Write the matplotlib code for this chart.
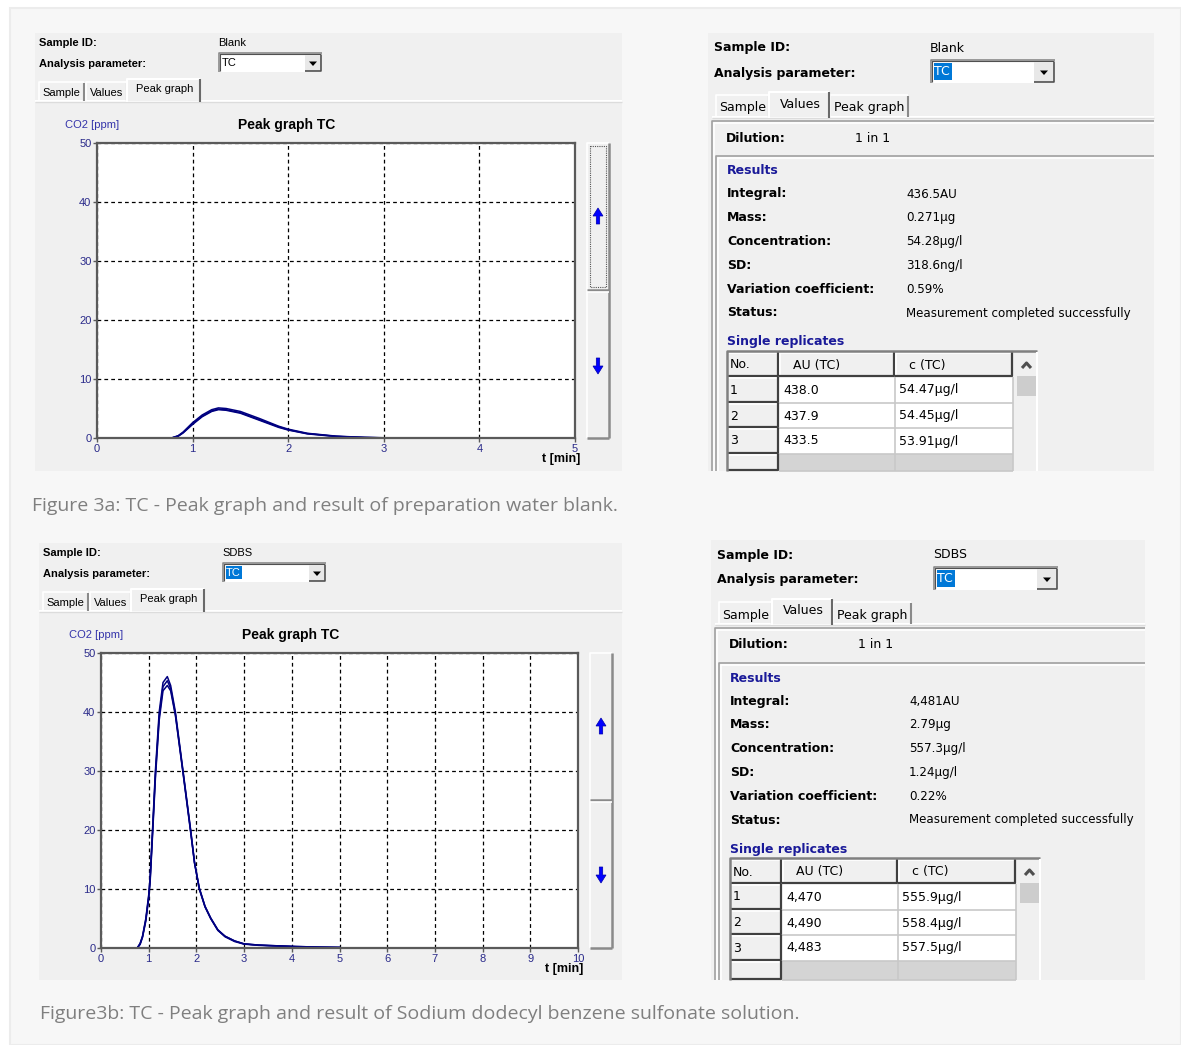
"""
Screenshot of two TOC analyser dialogs: peak graph tab and values tab
for a blank and an SDBS sample.
"""
import matplotlib
matplotlib.use("Agg")
import matplotlib.pyplot as plt
from matplotlib.patches import Rectangle, Polygon

W, H = 1181, 1045

# time axis shared by the replicate curves (min)
blank_t = [0.0, 0.78, 0.85, 0.9, 1.0, 1.1, 1.2, 1.27, 1.35, 1.5, 1.7, 1.9, 2.0, 2.2, 2.5, 2.8, 3.0, 3.4]
blank_r1 = [0.0, 0.0, 0.4, 1.0, 2.6, 3.9, 4.8, 5.1, 5.0, 4.5, 3.3, 2.0, 1.5, 0.8, 0.32, 0.1, 0.04, 0.0]
blank_r2 = [0.0, 0.0, 0.35, 0.9, 2.4, 3.7, 4.6, 4.9, 4.8, 4.3, 3.1, 1.9, 1.4, 0.75, 0.28, 0.09, 0.03, 0.0]
blank_r3 = [0.0, 0.0, 0.3, 0.85, 2.3, 3.6, 4.5, 4.8, 4.7, 4.2, 3.0, 1.8, 1.35, 0.7, 0.25, 0.08, 0.02, 0.0]

sdbs_t = [0.0, 0.76, 0.82, 0.87, 0.94, 1.0, 1.03, 1.08, 1.14, 1.22, 1.3, 1.39, 1.46, 1.56, 1.64,
          1.72, 1.8, 1.88, 1.96, 2.06, 2.18, 2.3, 2.45, 2.6, 2.8, 3.0, 3.3, 3.6, 4.1, 4.6, 5.0]
sdbs_r1 = [0.0, 0.0, 0.8, 2.0, 5.0, 9.0, 12.0, 20.0, 30.0, 40.0, 45.0, 46.0, 44.5, 40.0, 35.0,
           30.0, 25.0, 20.0, 14.5, 10.0, 7.0, 5.0, 3.0, 2.0, 1.2, 0.7, 0.5, 0.4, 0.25, 0.15, 0.1]
sdbs_r2 = [0.0, 0.0, 0.7, 1.9, 4.8, 8.7, 11.6, 19.5, 29.3, 39.2, 44.3, 45.3, 44.0, 39.6, 34.7,
           29.8, 24.8, 19.8, 14.6, 10.2, 7.1, 5.1, 3.1, 2.0, 1.2, 0.7, 0.5, 0.4, 0.25, 0.15, 0.1]
sdbs_r3 = [0.0, 0.0, 0.6, 1.8, 4.6, 8.4, 11.2, 19.0, 28.7, 38.6, 43.6, 44.5, 43.6, 39.4, 34.5,
           29.6, 24.6, 19.6, 14.4, 10.1, 7.0, 5.0, 3.0, 1.9, 1.1, 0.65, 0.45, 0.35, 0.2, 0.12, 0.08]

# values tab contents
result_labels = ["Integral:", "Mass:", "Concentration:", "SD:", "Variation coefficient:", "Status:"]
blank_results = ["436.5AU", "0.271µg", "54.28µg/l", "318.6ng/l", "0.59%", "Measurement completed successfully"]
sdbs_results = ["4,481AU", "2.79µg", "557.3µg/l", "1.24µg/l", "0.22%", "Measurement completed successfully"]
table_header = ["No.", "AU (TC)", "c (TC)"]
blank_reps = [["1", "438.0", "54.47µg/l"], ["2", "437.9", "54.45µg/l"], ["3", "433.5", "53.91µg/l"]]
sdbs_reps = [["1", "4,470", "555.9µg/l"], ["2", "4,490", "558.4µg/l"], ["3", "4,483", "557.5µg/l"]]

captions = ["Figure 3a: TC - Peak graph and result of preparation water blank.",
            "Figure3b: TC - Peak graph and result of Sodium dodecyl benzene sulfonate solution."]

PANEL = "#f0f0f0"
NAVY = "#000080"
TICKC = "#2a2a8a"
SMALL = "Liberation Sans"
BIG = "DejaVu Sans"

fig = plt.figure(figsize=(W / 100, H / 100), dpi=100, facecolor="white")
ui = fig.add_axes([0, 0, 1, 1])
ui.set_xlim(0, W)
ui.set_ylim(H, 0)
ui.axis("off")


def rect(x, y, w, h, fc, ec="none", lw=1, z=1):
    ui.add_patch(Rectangle((x, y), w, h, facecolor=fc, edgecolor=ec, linewidth=lw, zorder=z))


def line(xs, ys, c, lw=1, z=3, ls="-"):
    ui.plot(xs, ys, color=c, lw=lw, zorder=z, ls=ls, solid_capstyle="butt")


def txt(x, y, s, size, bold=False, color="black", ha="left", fam=SMALL):
    ui.text(x, y, s, fontsize=size, fontweight="bold" if bold else "normal", color=color,
            ha=ha, va="center", family=fam, zorder=5)


def combo(x, y, w, h, label, hl, size, fam):
    rect(x, y, w, h, "white", z=2)
    line([x, x, x + w], [y + h, y, y], "#8a8a8a", 1.2)
    line([x + 1, x + 1, x + w - 1], [y + h - 1, y + 1, y + 1], "#505050", 0.8)
    bw = h - 3
    bx = x + w - bw - 1
    rect(bx, y + 1.5, bw, h - 3, "#e8e8e8", z=3)
    line([bx + bw, bx + bw, bx], [y + 1.5, y + h - 1.5, y + h - 1.5], "#505050", 1.2, z=4)
    cx, cy = bx + bw / 2, y + h / 2 + 1
    ui.add_patch(Polygon([[cx - 4, cy - 2], [cx + 4, cy - 2], [cx, cy + 2.5]], closed=True,
                         facecolor="black", zorder=5))
    if hl:
        tw = size * 2.0
        rect(x + 2.5, y + 3, tw, h - 6, "#0078d7", z=4)
        txt(x + 3, y + h / 2, label, size, color="white", fam=fam)
    else:
        txt(x + 3, y + h / 2, label, size, fam=fam)


def tabs(x0, y0, widths, names, sel, h, size, fam, right_edge):
    xs = [x0]
    for w in widths:
        xs.append(xs[-1] + w)
    line([x0 - 4, right_edge], [y0 + h, y0 + h], "white", 1.5, z=3)
    line([x0 - 4, right_edge], [y0 + h + 1, y0 + h + 1], "#dcdcdc", 1, z=3)
    for i, name in enumerate(names):
        a, b = xs[i], xs[i + 1]
        top = y0 - 3 if i == sel else y0
        if i == sel:
            rect(a - 2, top, b - a + 2, h + 3, PANEL, z=4)
            line([a - 2, a - 2, b - 1], [y0 + h + 1, top, top], "white", 1.5, z=5)
            line([b - 1, b - 1], [top, y0 + h + 1], "#696969", 1.5, z=5)
            txt((a + b) / 2, top + h / 2 + 1, name, size, ha="center", fam=fam)
        else:
            line([a, a, b - 2], [y0 + h, y0, y0], "white", 1.2, z=3)
            line([b - 2, b - 2], [y0 + 1, y0 + h], "#8a8a8a", 1.5, z=3)
            txt((a + b) / 2 - 1, y0 + h / 2 + 2, name, size, ha="center", fam=fam)


def arrow(cx, cy, up):
    s = -1 if up else 1
    pts = [[cx - 5, cy], [cx, cy + s * 8], [cx + 5, cy], [cx + 1.7, cy],
           [cx + 1.7, cy - s * 8], [cx - 1.7, cy - s * 8], [cx - 1.7, cy]]
    ui.add_patch(Polygon(pts, closed=True, facecolor="#0000ff", edgecolor="#0000aa",
                         linewidth=0.5, zorder=6))


def graph_panel(px, py, pw, ph, sid, hl, ax_box, xmax, t, reps, split, dotted, arrows_y):
    rect(px, py, pw, ph, PANEL)
    txt(px + 4, py + 10, "Sample ID:", 8, bold=True)
    txt(px + 183, py + 10, sid, 8)
    txt(px + 4, py + 31, "Analysis parameter:", 8, bold=True)
    combo(px + 184, py + 20, 103, 19, "TC", hl, 8, SMALL)
    tabs(px + 4, py + 49, [47, 43, 72], ["Sample", "Values", "Peak graph"], 2, 19, 8, SMALL,
         px + pw)
    l, tp, r, b = ax_box
    txt(l - 32, tp - 18, "CO2 [ppm]", 8, color="#3333aa")
    txt((l + r) / 2 - 49, tp - 18, "Peak graph TC", 10, bold=True, ha="center")
    ax = fig.add_axes([l / W, 1 - b / H, (r - l) / W, (b - tp) / H])
    ax.set_facecolor("white")
    for y in reps:
        ax.plot(t, y, color=NAVY, lw=1.1)
    ax.set_xlim(0, xmax)
    ax.set_ylim(0, 50)
    ax.set_xticks(range(0, xmax + 1))
    ax.set_yticks(range(0, 51, 10))
    ax.grid(True, color="black", ls=(0, (3, 2.5)), lw=0.9)
    for sp in ax.spines.values():
        sp.set_color("#5a5a5a")
        sp.set_linewidth(1.6)
    ax.tick_params(axis="both", length=3, width=1, color="#5a5a5a", labelsize=8,
                   labelcolor=TICKC, pad=1)
    for lab in ax.get_xticklabels() + ax.get_yticklabels():
        lab.set_family(SMALL)
    txt(r + 5, b + 21, "t [min]", 9, bold=True, ha="right")
    # scroll bar beside the graph
    sx = r + 12
    rect(sx, tp, 22, b - tp, PANEL, z=2)
    line([sx, sx, sx + 22], [b, tp, tp], "white", 1.2)
    line([sx + 22, sx + 22], [tp, b], "#8a8a8a", 1.8)
    line([sx, sx + 22], [b, b], "#8a8a8a", 1.8)
    line([sx, sx + 22], [split, split], "#8a8a8a", 1.8)
    line([sx, sx + 22], [split + 2, split + 2], "white", 1.2)
    if dotted:
        rect(sx + 3, tp + 3, 16, split - tp - 6, "none", ec="#555555", lw=0.8, z=4)
        ui.patches[-1].set_linestyle((0, (1, 1)))
    arrow(sx + 11, arrows_y[0], True)
    arrow(sx + 11, arrows_y[1], False)


def values_panel(px, py, pw, ph, sid, res, reps):
    rect(px, py, pw, ph, PANEL)
    txt(px + 6, py + 15, "Sample ID:", 9, bold=True, fam=BIG)
    txt(px + 222, py + 15, sid, 9, fam=BIG)
    txt(px + 6, py + 40, "Analysis parameter:", 9, bold=True, fam=BIG)
    combo(px + 223, py + 27, 124, 23, "TC", True, 9, BIG)
    tabs(px + 8, py + 62, [55, 59, 80], ["Sample", "Values", "Peak graph"], 1, 22, 9, BIG,
         px + pw)
    # outer and inner frames of the values tab
    bx, by = px + 4, py + 88
    line([bx, bx, px + pw], [py + ph, by, by], "#a0a0a0", 1.2)
    line([bx + 2, bx + 2, px + pw], [py + ph, by + 2, by + 2], "white", 1.2)
    txt(px + 18, py + 105, "Dilution:", 9, bold=True, fam=BIG)
    txt(px + 147, py + 105, "1 in 1", 9, fam=BIG)
    gx, gy = px + 8, py + 123
    line([gx, gx, px + pw], [py + ph, gy, gy], "#a0a0a0", 1.2)
    line([gx + 2, gx + 2, px + pw], [py + ph, gy + 2, gy + 2], "white", 1.2)
    txt(px + 19, py + 138, "Results", 9, bold=True, color="#1a1a99", fam=BIG)
    for i, (lab, val) in enumerate(zip(result_labels, res)):
        yy = py + 161 + i * 23.8
        txt(px + 19, yy, lab, 9, bold=True, fam=BIG)
        txt(px + 198, yy, val, 8.6, fam=BIG)
    txt(px + 19, py + 309, "Single replicates", 9, bold=True, color="#1a1a99", fam=BIG)
    # replicate table
    cols = [px + 19, px + 71, px + 187, px + 305]
    ty = py + 319
    rows = [ty, ty + 25, ty + 51, ty + 76, ty + 102, py + ph]
    rect(cols[0], ty, cols[3] - cols[0], py + ph - ty, "#d4d4d4", z=2)
    for ri in range(1, 4):
        rect(cols[1], rows[ri], cols[3] - cols[1], rows[ri + 1] - rows[ri], "white", z=2)
    for ri in range(5):
        for ci in range(3):
            if ri == 0 or ci == 0:
                x0, x1 = cols[ci], cols[ci + 1]
                y0, y1 = rows[ri], rows[ri + 1]
                rect(x0, y0, x1 - x0, y1 - y0, PANEL, z=2)
                line([x0 + 1, x0 + 1, x1 - 1], [y1 - 1, y0 + 1, y0 + 1], "white", 1.2, z=3)
                line([x1 - 1, x1 - 1, x0], [y0, y1 - 1, y1 - 1], "#404040", 1.6, z=3)
            else:
                line([cols[ci], cols[ci + 1]], [rows[ri + 1], rows[ri + 1]], "#c8c8c8", 1.2, z=3)
                line([cols[ci + 1], cols[ci + 1]], [rows[ri], rows[ri + 1]], "#c8c8c8", 1.2, z=3)
    line([cols[0], cols[0], cols[3] + 24], [py + ph, ty - 1, ty - 1], "#808080", 1.8, z=3)
    txt(cols[0] + 3, ty + 13, table_header[0], 9, fam=BIG)
    txt(cols[1] + 14, ty + 13, table_header[1], 9, fam=BIG)
    txt(cols[2] + 14, ty + 13, table_header[2], 9, fam=BIG)
    for ri, rep in enumerate(reps):
        yy = rows[ri + 1] + 13
        txt(cols[0] + 3, yy, rep[0], 9, fam=BIG)
        txt(cols[1] + 4, yy, rep[1], 9, fam=BIG)
        txt(cols[2] + 4, yy, rep[2], 9, fam=BIG)
    # table scroll bar
    sx = cols[3] + 3
    rect(sx, ty + 1, 21, py + ph - ty - 1, PANEL, z=2)
    line([sx + 21, sx + 21], [ty, py + ph], "white", 1.5)
    line([sx + 6, sx + 10.5, sx + 15], [ty + 16, ty + 11, ty + 16], "#505050", 2.2, z=4)
    rect(sx + 1, ty + 24, 19, 20, "#cdcdcd", z=3)


# page background
rect(10, 8, W - 10, H - 8, "#f7f7f7", ec="#ececec", lw=1.5, z=0)

graph_panel(35, 33, 587, 438, "Blank", False, (97, 143, 575, 438), 5, blank_t,
            [blank_r1, blank_r2, blank_r3], 290, True, (216, 366))
values_panel(708, 33, 446, 438, "Blank", blank_results, blank_reps)
graph_panel(39, 543, 583, 437, "SDBS", True, (101, 653, 578, 948), 10, sdbs_t,
            [sdbs_r1, sdbs_r2, sdbs_r3], 800, False, (726, 875))
values_panel(711, 540, 434, 440, "SDBS", sdbs_results, sdbs_reps)

txt(32, 506, captions[0], 14, color="#7f7f7f", fam="Open Sans")
txt(40, 1014, captions[1], 14, color="#7f7f7f", fam="Open Sans")

fig.savefig("out.png", dpi=100, facecolor="white")
